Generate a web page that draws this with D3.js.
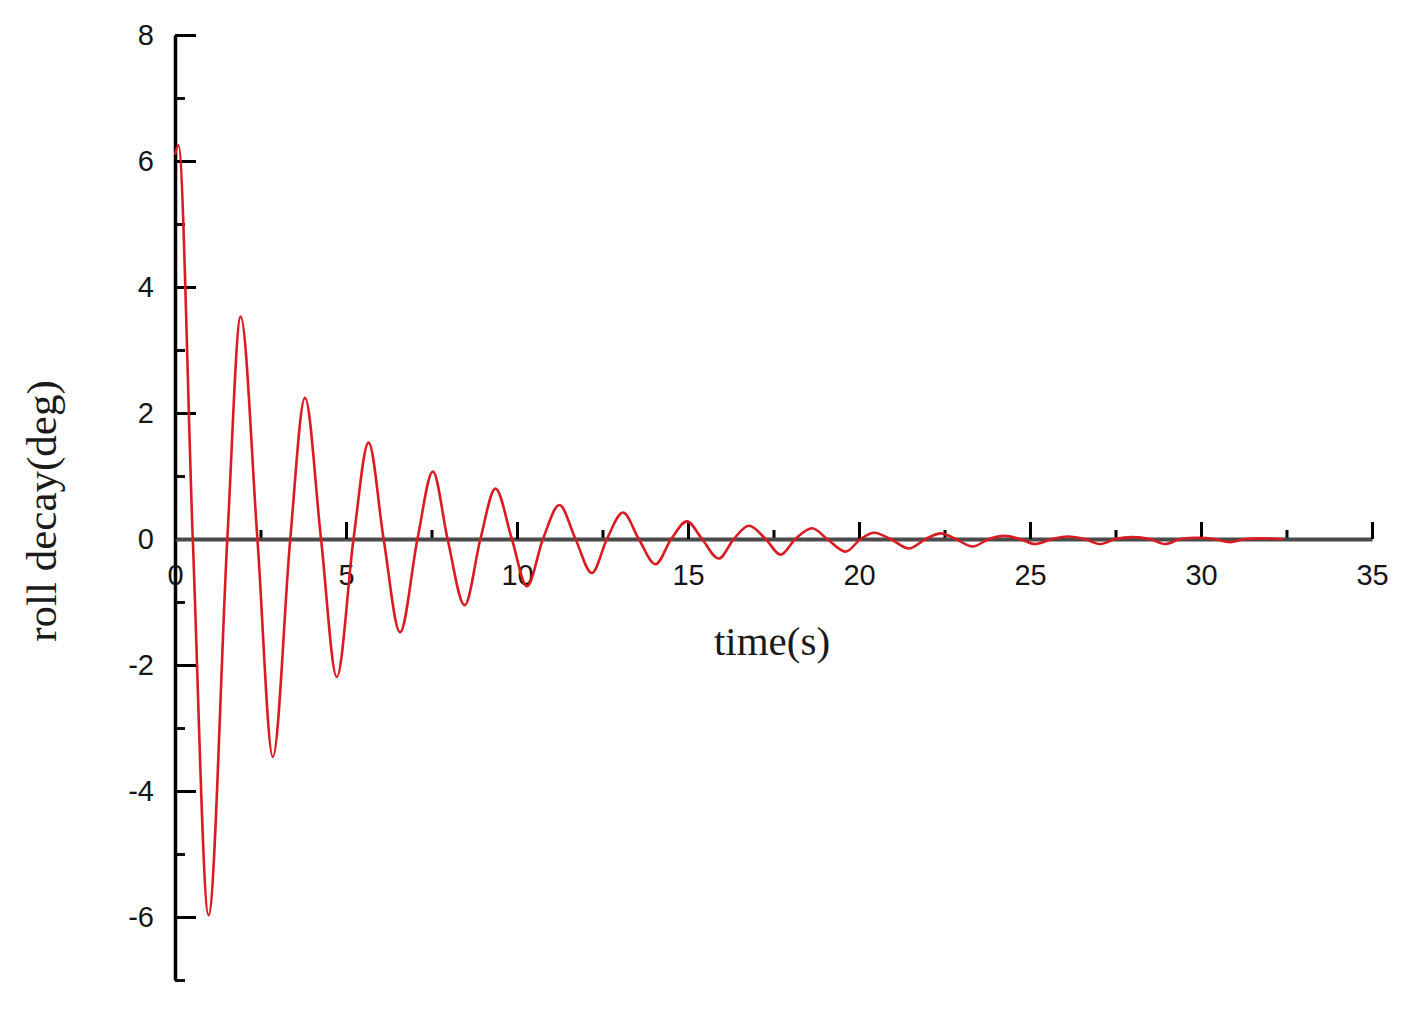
<!DOCTYPE html>
<html>
<head>
<meta charset="utf-8">
<script src="https://cdn.jsdelivr.net/npm/d3@7"></script>
<style>
  body { margin: 0; background: #fff; }
  .tick text { font-family: "Liberation Sans", Arial, sans-serif; font-size: 29px; fill: #151515; }
  .title { font-family: "Liberation Serif", "Times New Roman", serif; fill: #1a1a1a; }
</style>
</head>
<body>
<div id="chart"></div>
<script>
// roll decay: extrema and zero crossings
var time = [0, 0.1, 0.52, 0.98, 1.53, 1.92, 2.41, 2.86, 3.37, 3.8, 4.27, 4.73, 5.22,
  5.66, 6.1, 6.58, 7.09, 7.54, 7.97, 8.47, 8.93, 9.37, 9.85, 10.29, 10.76,
  11.24, 11.71, 12.19, 12.63, 13.1, 13.56, 14.05, 14.51, 14.97, 15.41, 15.9,
  16.34, 16.78, 17.27, 17.71, 18.14, 18.63, 19.07, 19.61, 20.05, 20.44, 20.92,
  21.46, 21.95, 22.39, 22.83, 23.32, 23.8, 24.25, 24.7, 25.15, 25.65, 26.1,
  26.6, 27.05, 27.5, 28.0, 28.5, 28.95, 29.4, 29.9, 30.4, 30.85, 31.3, 31.8, 32.4];
var roll = [6.1, 6.25, 0, -5.97, 0, 3.53, 0, -3.46, 0, 2.24, 0, -2.19, 0,
  1.53, 0, -1.48, 0, 1.07, 0, -1.05, 0, 0.8, 0, -0.75, 0,
  0.54, 0, -0.54, 0, 0.42, 0, -0.4, 0, 0.28, 0, -0.31,
  0, 0.21, 0, -0.25, 0, 0.17, 0, -0.2, 0, 0.1, 0,
  -0.15, 0, 0.09, 0, -0.12, 0, 0.05, 0, -0.08, 0, 0.04,
  0, -0.08, 0, 0.03, 0, -0.08, 0, 0.02, 0, -0.05, 0, 0.01, 0];

var xMajor = [0, 5, 10, 15, 20, 25, 30, 35];
var xMinor = [2.5, 7.5, 12.5, 17.5, 22.5, 27.5, 32.5];
var yMajor = [-6, -4, -2, 0, 2, 4, 6, 8];
var yMinor = [-7, -5, -3, -1, 1, 3, 5, 7];

var width = 1413, height = 1013;

var x = d3.scaleLinear().domain([0, 35]).range([175, 1372]);
var y = d3.scaleLinear().domain([-7, 8]).range([980, 35]);

// plain hyphen for negatives, like the original
var plain = function(d) { return String(d); };

var svg = d3.select("#chart").append("svg")
    .attr("width", width)
    .attr("height", height);

// y axis, ticks pointing inward
var yMinorAxis = svg.append("g")
    .attr("transform", "translate(" + x(0) + ",0)")
    .call(d3.axisLeft(y).tickValues(yMinor).tickSize(-10).tickSizeOuter(0).tickFormat(""));
var yAxis = svg.append("g")
    .attr("transform", "translate(" + x(0) + ",0)")
    .call(d3.axisLeft(y).tickValues(yMajor).tickSize(-21).tickSizeOuter(0).tickPadding(21).tickFormat(plain));
yMinorAxis.select(".domain").remove();
yAxis.select(".domain").attr("stroke", "#000").attr("stroke-width", 3.5);
yAxis.selectAll(".tick line").attr("stroke", "#000").attr("stroke-width", 3);
yMinorAxis.selectAll(".tick line").attr("stroke", "#111").attr("stroke-width", 3);

// x axis through zero, ticks pointing up
var xMinorAxis = svg.append("g")
    .attr("transform", "translate(0," + y(0) + ")")
    .call(d3.axisBottom(x).tickValues(xMinor).tickSize(-9).tickSizeOuter(0).tickFormat(""));
var xAxis = svg.append("g")
    .attr("transform", "translate(0," + y(0) + ")")
    .call(d3.axisBottom(x).tickValues(xMajor).tickSize(-17).tickSizeOuter(0).tickPadding(25).tickFormat(plain));
xMinorAxis.select(".domain").remove();
xAxis.select(".domain").attr("stroke", "#4a4a4a").attr("stroke-width", 4);
xAxis.selectAll(".tick line").attr("stroke", "#000").attr("stroke-width", 3);
xMinorAxis.selectAll(".tick line").attr("stroke", "#000").attr("stroke-width", 3);

// the decay curve
var line = d3.line()
    .x(function(d, i) { return x(time[i]); })
    .y(function(d) { return y(d); })
    .curve(d3.curveMonotoneX);

svg.append("path")
    .datum(roll)
    .attr("fill", "none")
    .attr("stroke", "#d81c22")
    .attr("stroke-width", 2.6)
    .attr("d", line);

// axis titles
svg.append("text")
    .attr("class", "title")
    .attr("x", 772)
    .attr("y", 655)
    .attr("text-anchor", "middle")
    .style("font-size", "41px")
    .text("time(s)");

svg.append("text")
    .attr("class", "title")
    .attr("transform", "translate(56,511) rotate(-90)")
    .attr("text-anchor", "middle")
    .style("font-size", "43px")
    .text("roll decay(deg)");
</script>
</body>
</html>
